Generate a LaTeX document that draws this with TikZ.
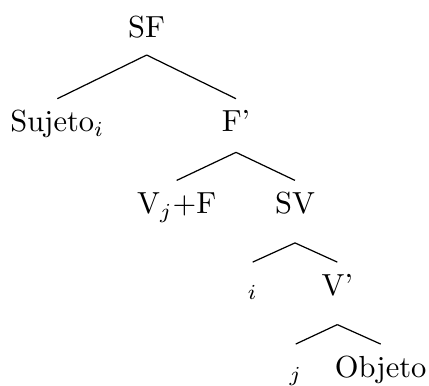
\documentclass[tikz,border=0pt]{standalone}
\usepackage{tikz}
\tikzset{
  cat/.style={anchor=base,inner xsep=1pt,inner ysep=3.7pt,text height=7pt,text depth=2pt},
  low/.style={text depth=5.7pt},
  branch/.style={draw=black,line width=0.4pt},
}
\begin{document}
\begin{tikzpicture}
\useasboundingbox (0,0) rectangle (4.946,-4.439);
\node[cat] (sf) at (1.691,-0.427) {SF};
\node[cat] (suj) at (0.661,-1.521) {Sujeto$_i$};
\node[cat,text depth=2.8pt] (fbar) at (2.721,-1.521) {F'};
\node[cat] (vf) at (2.037,-2.463) {V$_j$+F};
\node[cat,low] (sv) at (3.401,-2.463) {SV};
\node[cat] (ti) at (2.913,-3.405) {$_i$};
\node[cat,low] (vbar) at (3.889,-3.405) {V'};
\node[cat] (tj) at (3.409,-4.350) {$_j$};
\node[cat] (obj) at (4.389,-4.350) {Objeto};
\draw[branch] (sf.south) -- (suj.north);
\draw[branch] (sf.south) -- (fbar.north);
\draw[branch] (fbar.south) -- (vf.north);
\draw[branch] (fbar.south) -- (sv.north);
\draw[branch] (sv.south) -- (ti.north);
\draw[branch] (sv.south) -- (vbar.north);
\draw[branch] (vbar.south) -- (tj.north);
\draw[branch] (vbar.south) -- (obj.north);
\end{tikzpicture}
\end{document}
